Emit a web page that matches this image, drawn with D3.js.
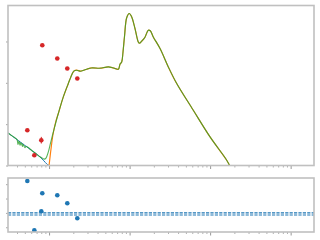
<!DOCTYPE html>
<html><head><meta charset="utf-8">
<script src="https://cdn.jsdelivr.net/npm/d3@7"></script>
<style>html,body{margin:0;padding:0;background:#fff;overflow:hidden}</style>
</head><body><svg id="c" width="320" height="240"></svg>
<script>
// ---- data ----
const greenX = [0.309,0.347,0.400,0.411,0.424,0.436,0.448,0.468,0.474,0.502,0.518,0.614,0.689,0.771,0.817,0.873,0.916,0.977,1.042,1.130,1.303,1.503,1.734,1.928,2.042,2.203,2.472,2.931,3.381,4.285,5.445,6.281,7.244,7.603,7.980,8.279,8.650,9.204,9.908,10.62,11.67,12.82,13.27,14.13,15.52,17.06,18.07,19.68,23.88,30.27,38.46,61.80,99.77,160.7,176.6];
const greenY = [0.788,0.716,0.626,0.51,0.59,0.49,0.554,0.46,0.518,0.43,0.464,0.358,0.285,0.213,0.184,0.155,0.180,0.322,0.539,0.813,1.258,1.659,1.983,2.208,2.288,2.305,2.281,2.329,2.360,2.353,2.385,2.360,2.329,2.450,2.505,2.740,3.127,3.574,3.676,3.594,3.313,2.989,2.958,3.006,3.103,3.272,3.260,3.110,2.830,2.385,1.983,1.337,0.692,0.128,-0.02];
const blueX = [0.309,0.518,0.689,0.771,0.862,0.944,1.0];
const blueY = [0.788,0.464,0.285,0.208,0.114,0.031,0];
const orangeHeadX = [1.0,1.057,1.119,1.219];
const orangeHeadY = [0,0.40,0.75,1.08];
const dataX = [0.537,0.656,0.801,0.824,1.265,1.684,2.242];
const dataY = [0.854,0.249,0.612,2.909,2.588,2.346,2.104];
const dataErr = [0.03,0.03,0.08,0.03,0.03,0.03,0.03];
const resid = [2.22,-1.21,0.11,1.365,1.226,0.669,-0.376];
const refLines = [0,-0.15];
const yTicks = [0,1,2,3];
const rTicks = [-1,0,1,2];

// ---- scales ----
const svg = d3.select("#c");
const L=8,R=314,T1=5.5,B1=165.5,T2=178,B2=232;
const x = d3.scaleLog().domain([Math.pow(10,-0.51),Math.pow(10,3.29)]).range([L,R]);
const y = d3.scaleLinear().domain([0,3.87]).range([B1,T1]);
const yr = d3.scaleLinear().domain([-1.33,2.43]).range([B2,T2]);

const minor=[],major=[];
for(let e=-1;e<=3;e++){for(let k=1;k<=9;k++){const v=k*Math.pow(10,e);if(v>=x.domain()[0]&&v<=x.domain()[1]){(k===1?major:minor).push(v);}}}

const defs=svg.append("defs");
defs.append("clipPath").attr("id","cp1").append("rect").attr("x",L).attr("y",T1).attr("width",R-L).attr("height",B1-T1);
defs.append("clipPath").attr("id","cp2").append("rect").attr("x",L).attr("y",T2).attr("width",R-L).attr("height",B2-T2);

function axes(yS, ticks, bottom){
  const g1=svg.append("g").attr("transform",`translate(0,${bottom})`);
  g1.call(d3.axisBottom(x).tickValues(minor).tickSize(2).tickFormat(""));
  g1.selectAll("line").attr("stroke","#b0b0b0");
  const g2=svg.append("g").attr("transform",`translate(0,${bottom})`);
  g2.call(d3.axisBottom(x).tickValues(major).tickSize(3.5).tickFormat(""));
  g2.selectAll("line").attr("stroke","#999");
  const g3=svg.append("g").attr("transform",`translate(${L},0)`);
  g3.call(d3.axisLeft(yS).tickValues(ticks).tickSize(2).tickFormat(""));
  g3.selectAll("line").attr("stroke","#a8a8a8");
  [g1,g2,g3].forEach(g=>{g.select(".domain").remove();g.selectAll("line").attr("stroke-width",1);});
}
axes(y,yTicks,B1);
axes(yr,rTicks,B2);

// top panel lines
const p1=svg.append("g").attr("clip-path","url(#cp1)");
const line=d3.line().x(d=>x(d[0])).y(d=>y(d[1])).curve(d3.curveCatmullRom.alpha(0.5));
const blue=blueX.map((v,i)=>[v,blueY[i]]);
const orange=orangeHeadX.map((v,i)=>[v,orangeHeadY[i]]).concat(greenX.map((v,i)=>[v,greenY[i]]).filter(d=>d[0]>=1.3));
const green=greenX.map((v,i)=>[v,greenY[i]]);
p1.append("path").attr("d",line(blue)).attr("fill","none").attr("stroke","#1f77b4").attr("stroke-width",1);
p1.append("path").attr("d",line(orange)).attr("fill","none").attr("stroke","#ff7f0e").attr("stroke-width",1.2);
p1.append("path").attr("d",line(green)).attr("fill","none").attr("stroke","#2ca02c").attr("stroke-width",1.1).attr("stroke-opacity",0.8);

// data points
const pts=dataX.map((v,i)=>({x:v,y:dataY[i],e:dataErr[i],r:resid[i]}));
p1.selectAll(".eb").data(pts).join("line").attr("x1",d=>x(d.x)).attr("x2",d=>x(d.x))
  .attr("y1",d=>y(d.y-d.e)).attr("y2",d=>y(d.y+d.e)).attr("stroke","#d62728").attr("stroke-width",1);
p1.selectAll(".dp").data(pts).join("circle").attr("cx",d=>x(d.x)).attr("cy",d=>y(d.y)).attr("r",2.3).attr("fill","#d62728");

// residual panel
const p2=svg.append("g").attr("clip-path","url(#cp2)");
p2.selectAll(".rl").data(refLines).join("line").attr("x1",L).attr("x2",R).attr("y1",d=>yr(d)).attr("y2",d=>yr(d))
  .attr("stroke","#1f77b4").attr("stroke-width",1.1).attr("stroke-dasharray","3.2,1.2");
p2.selectAll(".rp").data(pts).join("circle").attr("cx",d=>x(d.x)).attr("cy",d=>yr(d.r)).attr("r",2.3).attr("fill","#1f77b4");

// frames
[[T1,B1],[T2,B2]].forEach(([t,b])=>{
  svg.append("rect").attr("x",L).attr("y",t).attr("width",R-L).attr("height",b-t)
    .attr("fill","none").attr("stroke","#c0c0c0").attr("stroke-width",1.6);
});
</script></body></html>
